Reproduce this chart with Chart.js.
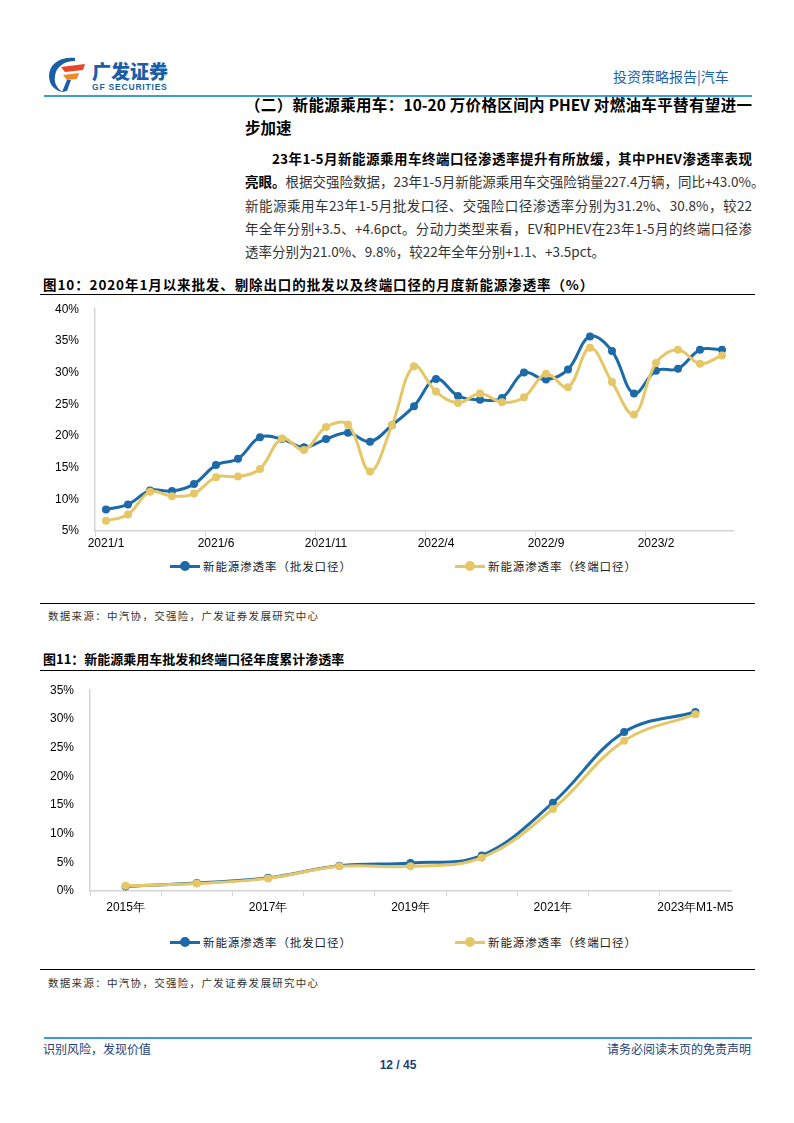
<!DOCTYPE html>
<html>
<head>
<meta charset="utf-8">
<script src="https://cdn.jsdelivr.net/npm/chart.js@4.4.0/dist/chart.umd.min.js"></script>
<style>
  body { margin: 0; background: #fff; font-family: "Liberation Sans", "Noto Sans CJK SC", sans-serif; }
  .page { position: relative; width: 794px; height: 1123px; overflow: hidden; }
  .abs { position: absolute; white-space: nowrap; }
  .cn { font-family: "Noto Sans CJK SC", sans-serif; }
  .rule { position: absolute; left: 40px; width: 715px; height: 0; border-top: 1.5px solid #000; }
  .blue-rule { position: absolute; left: 44px; width: 708px; height: 0; border-top: 2px solid #3a9fd6; }
  .para { position: absolute; left: 245px; width: 507px; font-size: 13.5px; line-height: 18px; color: #333; text-align: justify; text-align-last: justify; white-space: nowrap; }
  .src { font-size: 10.5px; color: #333; letter-spacing: 1.3px; }
  .legend { position: absolute; font-size: 11.5px; color: #222; display: flex; align-items: center; letter-spacing: 0.9px; }
  .mk { position: relative; width: 30px; height: 10px; margin-right: 3px; }
  .mk .ln { position: absolute; left: 0; right: 0; top: 3.5px; height: 3px; }
  .mk .dt { position: absolute; left: 10px; top: 0; width: 10px; height: 10px; border-radius: 50%; }
</style>
</head>
<body>
<div class="page">
  <!-- header -->
  <svg class="abs" style="left:45px;top:55px" width="44" height="38" viewBox="0 0 44 38">
    <path d="M30 3 C14 1 4 10 4 21 C4 30 10 36 18 37 C11 33 9 27 10 21 C11 12 19 6 30 6 Z" fill="#1a5ea8"/>
    <path d="M16 12 L40 9 L38 15 L20 17 Z" fill="#e8452c"/>
    <path d="M18 20 L34 18 L32 24 L22 25 Z" fill="#f08a24"/>
    <path d="M22 25 L26 25 L22 36 L17 37 Z" fill="#1a5ea8"/>
  </svg>
  <div class="abs cn" style="left:92px;top:57px;font-size:19px;font-weight:900;color:#1a5ea8">广发证券</div>
  <div class="abs" style="left:92px;top:82px;font-size:8.5px;font-weight:bold;color:#1a5ea8;letter-spacing:0.8px">GF SECURITIES</div>
  <div class="abs cn" style="left:613px;top:66px;font-size:14px;color:#1d5fa8">投资策略报告|汽车</div>
  <div class="blue-rule" style="top:95px"></div>

  <!-- heading -->
  <div class="para cn" style="top:93px;font-size:15.5px;font-weight:bold;color:#000;line-height:22px">（二）新能源乘用车：10-20 万价格区间内 PHEV 对燃油车平替有望进一</div>
  <div class="abs cn" style="left:245px;top:116px;font-size:15.5px;font-weight:bold;color:#000;line-height:22px">步加速</div>

  <!-- paragraph -->
  <div class="para cn" style="top:149px;left:272px;width:480px;font-weight:bold;color:#000">23年1-5月新能源乘用车终端口径渗透率提升有所放缓，其中PHEV渗透率表现</div>
  <div class="para cn" style="top:172px"><b style="color:#000">亮眼。</b>根据交强险数据，23年1-5月新能源乘用车交强险销量227.4万辆，同比+43.0%。</div>
  <div class="para cn" style="top:196px">新能源乘用车23年1-5月批发口径、交强险口径渗透率分别为31.2%、30.8%，较22</div>
  <div class="para cn" style="top:219px">年全年分别+3.5、+4.6pct。分动力类型来看，EV和PHEV在23年1-5月的终端口径渗</div>
  <div class="abs cn" style="left:245px;top:242px;font-size:13.5px;line-height:18px;color:#333">透率分别为21.0%、9.8%，较22年全年分别+1.1、+3.5pct。</div>

  <!-- figure 10 -->
  <div class="abs cn" style="left:43px;top:274px;font-size:13.5px;font-weight:bold;color:#000;letter-spacing:0.9px">图10：2020年1月以来批发、剔除出口的批发以及终端口径的月度新能源渗透率（%）</div>
  <div class="rule" style="top:294px"></div>
  <div class="abs" style="left:40px;top:294px;width:720px;height:261px"><canvas id="chart1"></canvas></div>
  <div class="legend cn" style="left:170px;top:558px">
    <div class="mk"><div class="ln" style="background:#1c6aa8"></div><div class="dt" style="background:#1c6aa8"></div></div>新能源渗透率（批发口径）
  </div>
  <div class="legend cn" style="left:455px;top:558px">
    <div class="mk"><div class="ln" style="background:#e6c767"></div><div class="dt" style="background:#e6c767"></div></div>新能源渗透率（终端口径）
  </div>
  <div class="rule" style="top:603px"></div>
  <div class="abs cn src" style="left:48px;top:608px">数据来源：中汽协，交强险，广发证券发展研究中心</div>

  <!-- figure 11 -->
  <div class="abs cn" style="left:43px;top:649px;font-size:13px;font-weight:bold;color:#000">图11：新能源乘用车批发和终端口径年度累计渗透率</div>
  <div class="rule" style="top:670px"></div>
  <div class="abs" style="left:40px;top:675px;width:720px;height:240px"><canvas id="chart2"></canvas></div>
  <div class="legend cn" style="left:170px;top:934px">
    <div class="mk"><div class="ln" style="background:#1c6aa8"></div><div class="dt" style="background:#1c6aa8"></div></div>新能源渗透率（批发口径）
  </div>
  <div class="legend cn" style="left:455px;top:934px">
    <div class="mk"><div class="ln" style="background:#e6c767"></div><div class="dt" style="background:#e6c767"></div></div>新能源渗透率（终端口径）
  </div>
  <div class="rule" style="top:969px"></div>
  <div class="abs cn src" style="left:48px;top:975px">数据来源：中汽协，交强险，广发证券发展研究中心</div>

  <!-- footer -->
  <div class="blue-rule" style="top:1037px"></div>
  <div class="abs cn" style="left:43px;top:1040px;font-size:12px;color:#1d3f7a">识别风险，发现价值</div>
  <div class="abs cn" style="left:607px;top:1040px;font-size:12px;color:#1d3f7a">请务必阅读末页的免责声明</div>
  <div class="abs" style="left:370px;top:1058px;width:56px;text-align:center;font-size:12px;font-weight:bold;color:#1d3f7a">12 / 45</div>
</div>

<script>
// monthly data, 2021/1 - 2023/5
const months = [
  '2021/1','2021/2','2021/3','2021/4','2021/5','2021/6','2021/7','2021/8','2021/9','2021/10','2021/11','2021/12',
  '2022/1','2022/2','2022/3','2022/4','2022/5','2022/6','2022/7','2022/8','2022/9','2022/10','2022/11','2022/12',
  '2023/1','2023/2','2023/3','2023/4','2023/5'
];
const wholesaleMonthly = [8.4, 9.2, 11.4, 11.3, 12.4, 15.4, 16.4, 19.8, 19.5, 18.2, 19.5, 20.5,
  19.1, 21.7, 24.7, 29.0, 26.3, 25.7, 26.0, 30.0, 28.9, 30.5, 35.7, 33.4,
  26.7, 30.3, 30.6, 33.6, 33.6];
const terminalMonthly = [6.6, 7.6, 11.2, 10.5, 10.9, 13.5, 13.6, 14.8, 19.6, 17.8, 21.4, 21.8,
  14.4, 21.7, 31.0, 27.0, 25.2, 26.7, 25.3, 26.1, 29.8, 27.7, 33.9, 28.5,
  23.4, 31.5, 33.6, 31.4, 32.7];

// yearly cumulative
const years = ['2015年','2016年','2017年','2018年','2019年','2020年','2021年','2022年','2023年M1-M5'];
const wholesaleYearly = [0.8, 1.4, 2.3, 4.4, 4.9, 6.2, 15.4, 27.7, 31.2];
const terminalYearly = [0.9, 1.3, 2.2, 4.3, 4.3, 5.8, 14.3, 26.2, 30.8];

const BLUE = '#1c6aa8';
const YELLOW = '#e6c767';
const AXIS = '#d4d4d4';

Chart.defaults.font.family = '"Liberation Sans", Arial, sans-serif';
Chart.defaults.color = '#000';

function lineSet(label, data, color, order) {
  return {
    label: label,
    data: data,
    borderColor: color,
    backgroundColor: color,
    borderWidth: 3,
    pointRadius: 4,
    pointHoverRadius: 4,
    pointBorderWidth: 0,
    tension: 0.38,
    order: order,
  };
}

function drawChart(canvasId, labels, blueData, yellowData, yMin, yMax, labelEvery, tickEvery, pad, yWidth, labelPad) {
  return new Chart(document.getElementById(canvasId), {
    type: 'line',
    data: {
      labels: labels,
      datasets: [
        lineSet('新能源渗透率（批发口径）', blueData, BLUE, 2),
        lineSet('新能源渗透率（终端口径）', yellowData, YELLOW, 1),
      ]
    },
    options: {
      responsive: true,
      maintainAspectRatio: false,
      animation: false,
      layout: { padding: pad },
      plugins: { legend: { display: false }, tooltip: { enabled: false } },
      scales: {
        x: {
          offset: true,
          grid: {
            offset: true,
            drawOnChartArea: false,
            tickLength: 5,
            tickColor: ctx => (ctx.index % tickEvery === 0 ? AXIS : 'rgba(0,0,0,0)'),
          },
          border: { color: AXIS, width: 1.5 },
          ticks: {
            autoSkip: false,
            maxRotation: 0,
            padding: labelPad,
            font: { size: 12 },
            callback: function (v, i) { return i % labelEvery === 0 ? this.getLabelForValue(v) : ''; },
          },
          afterFit: s => { s.height = 24; },
        },
        y: {
          min: yMin,
          max: yMax,
          grid: { display: false },
          border: { color: AXIS, width: 1.5 },
          ticks: { stepSize: 5, padding: 8, font: { size: 12 }, callback: v => v + '%' },
          afterFit: s => { s.width = yWidth; },
        }
      }
    }
  });
}

drawChart('chart1', months, wholesaleMonthly, terminalMonthly, 5, 40, 5, 5,
  { top: 6, right: 27, bottom: 0, left: 0 }, 55, 0);
// chart 2: tick marks at every category, labels every other one
drawChart('chart2', years, wholesaleYearly, terminalYearly, 0, 35, 2, 1,
  { top: 4, right: 29, bottom: 0, left: 0 }, 50, 4);
</script>
</body>
</html>
